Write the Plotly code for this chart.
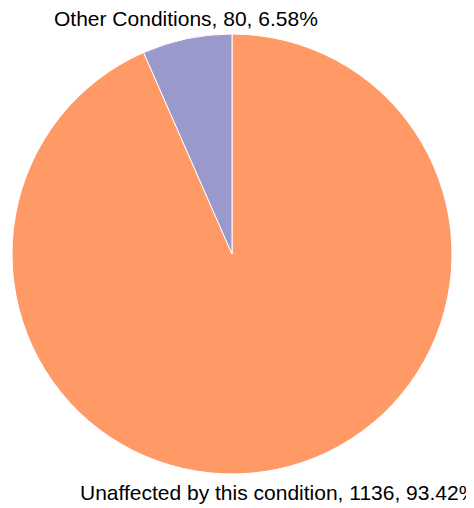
import plotly.graph_objects as go

labels = ["Unaffected by this condition", "Other Conditions"]
values = [1136, 80]
colors = ["#FF9966", "#9999CC"]

W, H = 474, 508
OFF = 8  # page body margin
total = sum(values)

fig = go.Figure(
    go.Pie(
        labels=labels,
        values=values,
        sort=False,
        direction="clockwise",
        rotation=0,
        marker=dict(colors=colors, line=dict(color="white", width=1)),
        textinfo="none",
        showlegend=False,
        hoverinfo="label+value+percent",
        domain=dict(x=[(12 - OFF) / W, (452 - OFF) / W],
                    y=[1 - (474 - OFF) / H, 1 - (34 - OFF) / H]),
    )
)

# slice labels placed below and above the pie
label_pos = [(78, 492), (52, 19)]
for lab, val, (px, py) in zip(labels, values, label_pos):
    fig.add_annotation(
        text=f"{lab}, {val}, {val / total * 100:.2f}%",
        xref="paper", yref="paper",
        x=(px - OFF) / W, y=1 - (py - OFF) / H,
        xanchor="left", yanchor="middle",
        showarrow=False,
        font=dict(family="Liberation Sans, Arial", size=21, color="black"),
    )

fig.update_layout(
    width=W,
    height=H,
    margin=dict(l=0, r=0, t=0, b=0),
    paper_bgcolor="white",
    plot_bgcolor="white",
)

fig.write_html("out.html")
